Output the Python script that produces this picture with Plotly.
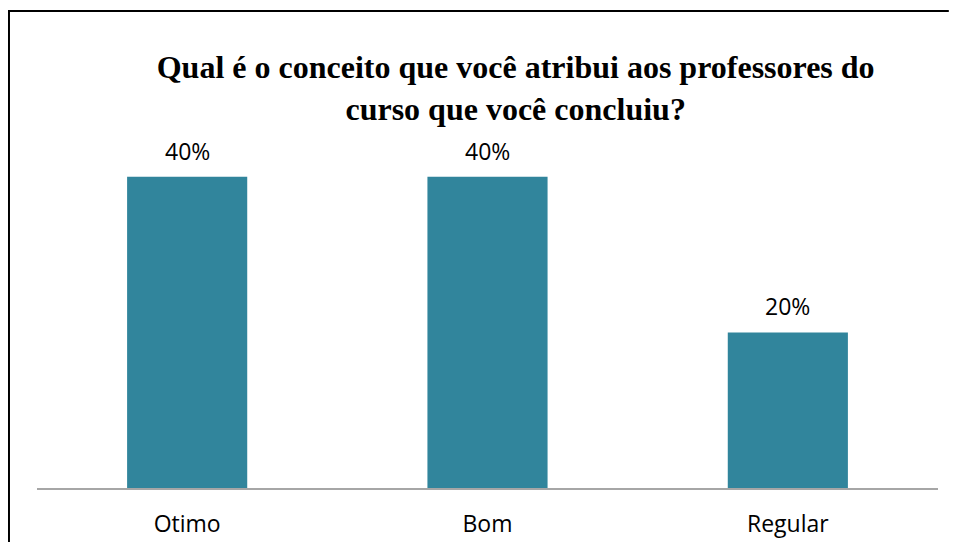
import plotly.graph_objects as go

# Dados do gráfico
categorias = ["Otimo", "Bom", "Regular"]
percentuais = [40, 40, 20]
rotulos = ["40%", "40%", "20%"]

COR_BARRA = "#31859C"
FONTE = "Open Sans"

fig = go.Figure()
fig.add_trace(go.Bar(
    x=categorias,
    y=percentuais,
    marker=dict(color=COR_BARRA, line=dict(width=0)),
    hoverinfo="skip",
))

# Rótulos de dados acima das barras
for cat, val, txt in zip(categorias, percentuais, rotulos):
    fig.add_annotation(
        x=cat, y=val, text=txt, showarrow=False,
        yanchor="bottom", yshift=8,
        font=dict(family=FONTE, size=23, color="#000000"),
    )

# Moldura (só as bordas superior e esquerda aparecem no original)
fig.add_shape(type="line", xref="paper", yref="paper",
              x0=-0.0311, x1=-0.0311, y0=-0.2, y1=1.2262,
              line=dict(color="#000000", width=2))
fig.add_shape(type="line", xref="paper", yref="paper",
              x0=-0.0322, x1=1.012, y0=1.2262, y1=1.2262,
              line=dict(color="#000000", width=2))

fig.update_layout(
    width=941, height=534,
    margin=dict(l=29, r=11, t=91, b=54),
    paper_bgcolor="white",
    plot_bgcolor="white",
    bargap=0.6,
    showlegend=False,
    title=dict(
        text="Qual é o conceito que você atribui aos professores do<br>curso que você concluiu?",
        x=0.5395, xanchor="center",
        y=1 - 70 / 534, yanchor="top",
        font=dict(family="Liberation Serif", size=32, color="#000000", weight="bold"),
    ),
    xaxis=dict(
        showline=True, linecolor="#A6A6A6", linewidth=2,
        showgrid=False, ticks="", ticklabelstandoff=14, automargin=False,
        tickfont=dict(family=FONTE, size=23, color="#000000"),
    ),
    yaxis=dict(
        range=[0, 50], visible=False, showgrid=False, zeroline=False,
        automargin=False,
    ),
)

fig.write_html("out.html")
